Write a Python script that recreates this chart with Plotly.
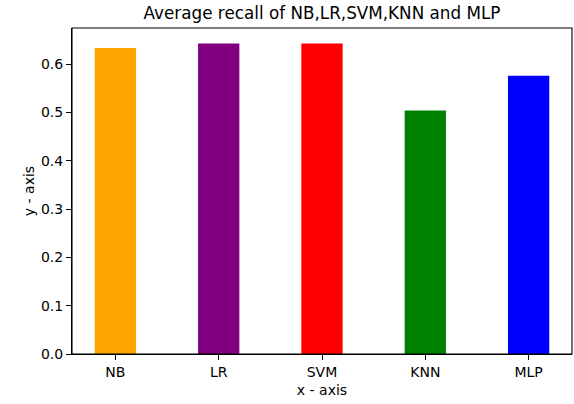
import plotly.graph_objects as go

models = ["NB", "LR", "SVM", "KNN", "MLP"]
recall = [0.633, 0.6425, 0.6425, 0.504, 0.576]
colors = ["orange", "purple", "red", "green", "blue"]
y_ticks = [0.0, 0.1, 0.2, 0.3, 0.4, 0.5, 0.6]

FONT = "DejaVu Sans"

fig = go.Figure(
    go.Bar(
        x=models,
        y=recall,
        width=0.4,
        marker=dict(color=colors, line=dict(width=0)),
        hoverinfo="skip",
    )
)

fig.update_layout(
    width=574,
    height=404,
    margin=dict(l=72, r=2, t=28, b=50, autoexpand=False),
    paper_bgcolor="white",
    plot_bgcolor="white",
    showlegend=False,
    font=dict(family=FONT, size=14, color="black"),
    title=dict(
        text="Average recall of NB,LR,SVM,KNN and MLP",
        font=dict(family=FONT, size=16.8, color="black"),
        x=0.5,
        xref="paper",
        xanchor="center",
        y=1,
        yref="paper",
        yanchor="bottom",
        pad=dict(b=9),
        automargin=False,
    ),
    shapes=[
        dict(type="rect", xref="paper", yref="paper", x0=0, x1=1, y0=0, y1=1,
             line=dict(color="black", width=1.1), fillcolor="rgba(0,0,0,0)", layer="above")
    ],
)

fig.update_xaxes(
    type="category",
    range=[-0.42, 4.42],
    automargin=False,
    showline=True,
    linecolor="black",
    linewidth=1.1,
    ticks="outside",
    ticklen=5,
    tickwidth=1.1,
    tickcolor="black",
    showgrid=False,
    zeroline=False,
    tickfont=dict(family=FONT, size=14, color="black"),
    title=dict(text="x - axis", font=dict(family=FONT, size=14, color="black"), standoff=6),
)

fig.update_yaxes(
    range=[0, 0.6746],
    automargin=False,
    tickvals=y_ticks,
    ticktext=[f"{v:.1f}" for v in y_ticks],
    showline=True,
    linecolor="black",
    linewidth=1.1,
    ticks="outside",
    ticklen=5,
    tickwidth=1.1,
    tickcolor="black",
    showgrid=False,
    zeroline=False,
    tickfont=dict(family=FONT, size=14, color="black"),
    title=dict(text="y - axis", font=dict(family=FONT, size=14, color="black"), standoff=2),
)

fig.write_html(
    "out.html",
    config={"displayModeBar": False},
    post_script="document.body.style.margin='0';document.body.style.padding='0';",
)
